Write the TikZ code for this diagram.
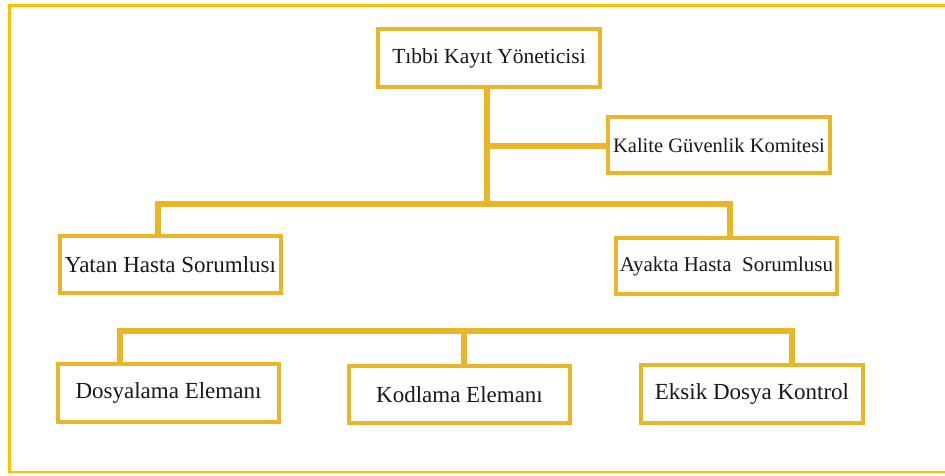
\documentclass[tikz,border=0pt]{standalone}
\usepackage{fontspec}
\setmainfont{Liberation Serif}
\definecolor{framec}{RGB}{255,190,0}
\definecolor{goldc}{RGB}{234,182,40}
\newcommand{\fs}[1]{\fontsize{#1}{#1}\selectfont}
\begin{document}
\begin{tikzpicture}[x=1pt,y=-1pt,
  box/.style={draw=goldc,line width=4pt,fill=white,minimum width=#1,minimum height=57pt,inner sep=0pt,font=\fs{23},text=black!90},
  box/.default=221pt,
  conn/.style={draw=goldc,line width=5.5pt}]
\useasboundingbox (0,0) rectangle (945,476);
\fill[white] (0,0) rectangle (945,476);
\draw[framec,line width=2.5pt] (9.5,5.5) rectangle (960,472);
\coordinate (tb) at (487,204);
\coordinate (tkb) at (487,87);
\coordinate (kj) at (487,146);
\coordinate (bl) at (158,204);
\coordinate (br) at (730,204);
\coordinate (ql) at (120,331);
\coordinate (qm) at (464,331);
\coordinate (qr) at (792,331);
\draw[conn] (tkb) -- (tb);
\draw[conn] (kj) -- (610,146);
\draw[conn,line cap=rect] (bl) -- (br);
\draw[conn] (bl) -- (158,238);
\draw[conn] (br) -- (730,240);
\draw[conn,line cap=rect] (ql) -- (qr);
\draw[conn] (ql) -- (120,366);
\draw[conn] (qm) -- (464,368);
\draw[conn] (qr) -- (792,367);
\node[box=222pt,minimum height=58pt,font=\fs{21.5}] (tk) at (489,58) {Tıbbi Kayıt Yöneticisi};
\node[box=222pt,minimum height=56pt,font=\fs{20.5}] (kg) at (719,145) {Kalite Güvenlik Komitesi};
\node[box] (yh) at (170.5,264.5) {Yatan Hasta Sorumlusı};
\node[box,minimum height=56pt,font=\fs{21}] (ah) at (726.5,266) {Ayakta Hasta\ \ Sorumlusu};
\node[box,minimum height=58pt] (de) at (168.5,393) {Dosyalama Elemanı};
\node[box] (ke) at (459.5,394.5) {Kodlama Elemanı};
\node[box=222pt,minimum height=58pt] (ed) at (752,394) {Eksik Dosya Kontrol};
\end{tikzpicture}
\end{document}
